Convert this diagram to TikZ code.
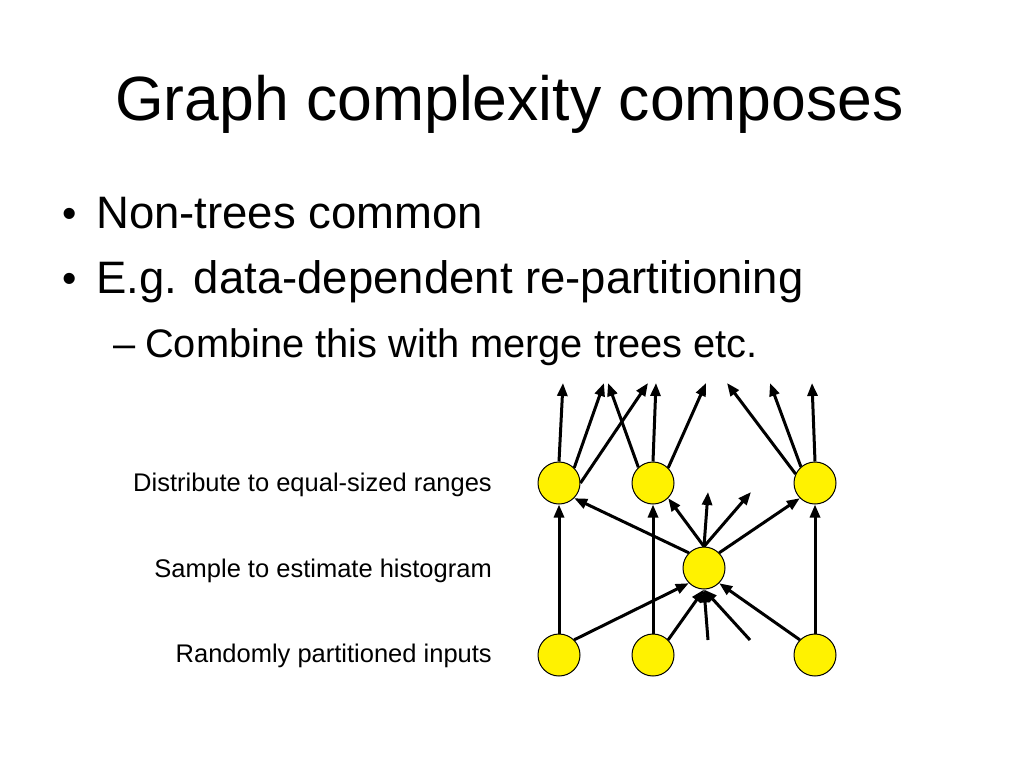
\documentclass[tikz,border=0pt]{standalone}
\usepackage{fontspec}
\setmainfont{Liberation Sans}
\usetikzlibrary{arrows.meta}
\tikzset{>={Triangle[length=13pt,width=10pt]}}
\tikzset{
    stage/.style={circle, draw, fill=yellow, minimum size=42pt, inner sep=0pt, line width=1pt},
    flow/.style={->, line width=3pt},
    caption/.style={anchor=base east, inner sep=0pt, font=\fontsize{25.5}{30}\selectfont},
    bullet/.style={anchor=base west, inner sep=0pt, font=\fontsize{45.5}{52}\selectfont},
    subbullet/.style={anchor=base west, inner sep=0pt, font=\fontsize{39.8}{46}\selectfont},
}

\begin{document}
\begin{tikzpicture}[x=1pt, y=-1pt]
    \useasboundingbox (0,0) rectangle (1024,768);

    \node[anchor=base west, inner sep=0pt, font=\fontsize{62.5}{70}\selectfont] (title) at (115,120) {Graph complexity composes};

    \node[bullet, font=\fontsize{41}{48}\selectfont] (b1) at (62,227) {•};
    \node[bullet] (t1) at (96,228) {Non-trees common};
    \node[bullet, font=\fontsize{41}{48}\selectfont] (b2) at (62,292) {•};
    \node[bullet] (t2) at (96,293) {E.g. data-dependent re-partitioning};
    \node[subbullet] (b3) at (113,357) {–};
    \node[subbullet] (t3) at (145,357) {Combine this with merge trees etc.};

    \node[caption] (l1) at (492,491) {Distribute to equal-sized ranges};
    \node[caption] (l2) at (492,577) {Sample to estimate histogram};
    \node[caption] (l3) at (492,662) {Randomly partitioned inputs};

    \foreach[count=\i] \x in {559,653,815} {
        \node[stage] (d\i) at (\x,483) {};
        \node[stage] (r\i) at (\x,655) {};
        \draw[flow] (r\i.north) -- (d\i.south);
    }
    \node[stage] (s) at (704,568) {};

    % loose ends
    \foreach[count=\j] \x in {563,604,648,608,656,706,727,770,812} {
        \coordinate (o\j) at (\x,383);
    }
    \coordinate (m1) at (708,492);
    \coordinate (m2) at (751,492);
    \coordinate (in1) at (708,640);
    \coordinate (in2) at (750,640);

    \draw[flow] (d1.north) -- (o1);
    \draw[flow] (d1.45) -- (o2);
    \draw[flow] (d1.east) -- (o3);
    \draw[flow] (d2.133) -- (o4);
    \draw[flow] (d2.north) -- (o5);
    \draw[flow] (d2.45) -- (o6);
    \draw[flow] (d3.155) -- (o7);
    \draw[flow] (d3.131) -- (o8);
    \draw[flow] (d3.north) -- (o9);

    \draw[flow] (s.135) -- (d1.-45);
    \draw[flow] (s.north) -- (d2.-45);
    \draw[flow] (s.north) -- (m1);
    \draw[flow] (s.north) -- (m2);
    \draw[flow] (s.45) -- (d3.225);

    \draw[flow] (r1.45) -- (s.225);
    \draw[flow] (r2.45) -- (s.south);
    \draw[flow] (in1) -- (s.south);
    \draw[flow] (in2) -- (s.south);
    \draw[flow] (r3.135) -- (s.-45);

\end{tikzpicture}
\end{document}
